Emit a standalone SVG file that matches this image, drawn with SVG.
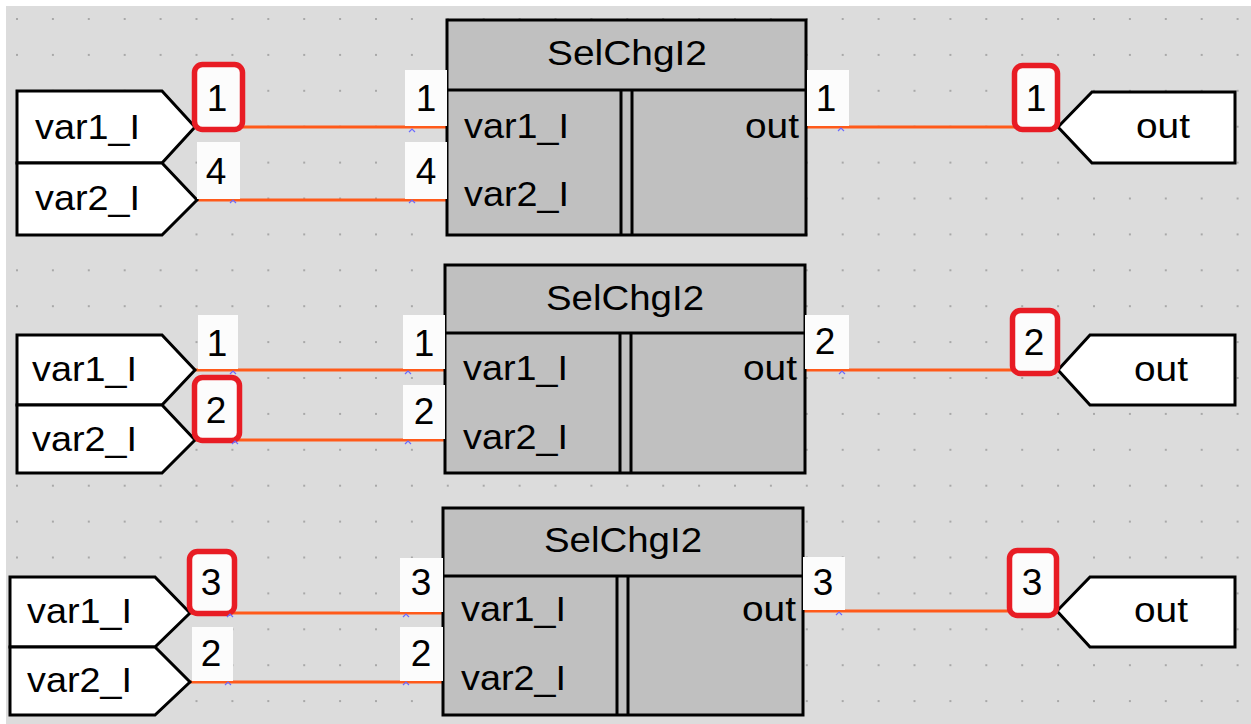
<svg xmlns="http://www.w3.org/2000/svg" width="1251" height="724" viewBox="0 0 1251 724">
<style>
.io{fill:#fff;stroke:#000;stroke-width:3;stroke-linejoin:miter}
.blk{fill:#c0c0c0;stroke:#000;stroke-width:3}
.ln{stroke:#000;stroke-width:3}
.wire{stroke:#ff5a1a;stroke-width:3;fill:none}
.lbl{fill:#fcfcfc}
.red{fill:#fcfcfc;stroke:#e81c24;stroke-width:5.5}
.mk{fill:none;stroke:#6b6bff;stroke-width:1.2}
text{font-family:"Liberation Sans",Arial,sans-serif;fill:#000}
.t{font-size:35px}
.n{font-size:37px;text-anchor:middle}
.ttl{font-size:35px;text-anchor:middle}
.o{font-size:35px;text-anchor:end}
.oc{font-size:35px;text-anchor:middle}
</style>
<defs>
<pattern id="grid" x="17" y="19" width="35.9" height="35.9" patternUnits="userSpaceOnUse">
<rect x="-1" y="-1" width="2" height="2" fill="#a8a8a8"/>
<rect x="34.9" y="-1" width="2" height="2" fill="#a8a8a8"/>
<rect x="-1" y="34.9" width="2" height="2" fill="#a8a8a8"/>
<rect x="34.9" y="34.9" width="2" height="2" fill="#a8a8a8"/>
</pattern>
</defs>
<rect width="1251" height="724" fill="#fff"/>
<rect x="6" y="6" width="1245" height="718" fill="#dcdcdc"/>
<rect x="6" y="6" width="1245" height="718" fill="url(#grid)"/>

<g id="connectors">
<line class="wire" x1="195" y1="127" x2="447" y2="127"/>
<line class="wire" x1="197" y1="200" x2="447" y2="200"/>
<line class="wire" x1="807" y1="127" x2="1058" y2="127"/>
<line class="wire" x1="195" y1="370" x2="445" y2="370"/>
<line class="wire" x1="195" y1="440" x2="445" y2="440"/>
<line class="wire" x1="805" y1="370" x2="1058" y2="370"/>
<line class="wire" x1="190" y1="613" x2="443" y2="613"/>
<line class="wire" x1="190" y1="682" x2="443" y2="682"/>
<line class="wire" x1="803" y1="611" x2="1057" y2="611"/>
</g>

<!-- Row 1 -->
<g id="in1a"><polygon class="io" points="17,91 162,91 195,127 162,163 17,163"/><text class="t" x="35" y="139" textLength="105" lengthAdjust="spacingAndGlyphs">var1_I</text></g>
<g id="in1b"><polygon class="io" points="17,163 162,163 197,200 162,235 17,235"/><text class="t" x="35" y="210" textLength="105" lengthAdjust="spacingAndGlyphs">var2_I</text></g>
<g id="block1">
<rect class="blk" x="447" y="20" width="359" height="215"/>
<line class="ln" x1="447" y1="90" x2="806" y2="90"/>
<line class="ln" x1="621" y1="90" x2="621" y2="235"/>
<line class="ln" x1="632" y1="90" x2="632" y2="235"/>
<text class="ttl" x="627" y="65" textLength="160" lengthAdjust="spacingAndGlyphs">SelChgI2</text>
<text class="t" x="464" y="138" textLength="105" lengthAdjust="spacingAndGlyphs">var1_I</text>
<text class="t" x="464" y="206" textLength="105" lengthAdjust="spacingAndGlyphs">var2_I</text>
<text class="o" x="799" y="138" textLength="54" lengthAdjust="spacingAndGlyphs">out</text>
</g>
<g id="out1"><polygon class="io" points="1058,127 1092,92 1235,92 1235,163 1092,163"/><text class="oc" x="1163" y="138" textLength="54" lengthAdjust="spacingAndGlyphs">out</text></g>
<g id="labels1">
<rect class="red" x="194.5" y="64.5" width="48" height="65" rx="8"/><text class="n" x="217" y="111">1</text>
<rect class="lbl" x="197" y="142" width="43" height="57"/><text class="n" x="216" y="184">4</text>
<rect class="lbl" x="405" y="70" width="42" height="56"/><text class="n" x="426" y="111">1</text>
<rect class="lbl" x="405" y="142" width="42" height="57"/><text class="n" x="426" y="184">4</text>
<rect class="lbl" x="807" y="70" width="42" height="56"/><text class="n" x="826" y="111">1</text>
<rect class="red" x="1014.5" y="65.5" width="43" height="64" rx="8"/><text class="n" x="1036" y="111">1</text>
</g>

<!-- Row 2 -->
<g id="in2a"><polygon class="io" points="17,335 162,335 195,370 162,405 17,405"/><text class="t" x="32" y="381" textLength="105" lengthAdjust="spacingAndGlyphs">var1_I</text></g>
<g id="in2b"><polygon class="io" points="17,405 162,405 195,440 162,473 17,473"/><text class="t" x="32" y="451" textLength="105" lengthAdjust="spacingAndGlyphs">var2_I</text></g>
<g id="block2">
<rect class="blk" x="445" y="265" width="360" height="208"/>
<line class="ln" x1="445" y1="333" x2="805" y2="333"/>
<line class="ln" x1="620" y1="333" x2="620" y2="473"/>
<line class="ln" x1="631" y1="333" x2="631" y2="473"/>
<text class="ttl" x="625" y="310" textLength="158" lengthAdjust="spacingAndGlyphs">SelChgI2</text>
<text class="t" x="463" y="380" textLength="105" lengthAdjust="spacingAndGlyphs">var1_I</text>
<text class="t" x="463" y="449" textLength="105" lengthAdjust="spacingAndGlyphs">var2_I</text>
<text class="o" x="797" y="380" textLength="54" lengthAdjust="spacingAndGlyphs">out</text>
</g>
<g id="out2"><polygon class="io" points="1058,370 1090,335 1235,335 1235,405 1090,405"/><text class="oc" x="1161" y="381" textLength="54" lengthAdjust="spacingAndGlyphs">out</text></g>
<g id="labels2">
<rect class="lbl" x="198" y="315" width="40" height="54"/><text class="n" x="217" y="356">1</text>
<rect class="red" x="194.5" y="377.5" width="45" height="63" rx="8"/><text class="n" x="216" y="423">2</text>
<rect class="lbl" x="403" y="315" width="42" height="54"/><text class="n" x="424" y="356">1</text>
<rect class="lbl" x="403" y="385" width="42" height="54"/><text class="n" x="424" y="424">2</text>
<rect class="lbl" x="805" y="315" width="44" height="54"/><text class="n" x="825" y="354">2</text>
<rect class="red" x="1012.5" y="310.5" width="45" height="63" rx="8"/><text class="n" x="1034" y="355">2</text>
</g>

<!-- Row 3 -->
<g id="in3a"><polygon class="io" points="10,577 155,577 190,613 155,647 10,647"/><text class="t" x="27" y="623" textLength="105" lengthAdjust="spacingAndGlyphs">var1_I</text></g>
<g id="in3b"><polygon class="io" points="10,647 155,647 190,682 155,715 10,715"/><text class="t" x="27" y="692" textLength="105" lengthAdjust="spacingAndGlyphs">var2_I</text></g>
<g id="block3">
<rect class="blk" x="443" y="508" width="360" height="207"/>
<line class="ln" x1="443" y1="576" x2="803" y2="576"/>
<line class="ln" x1="617" y1="576" x2="617" y2="715"/>
<line class="ln" x1="628" y1="576" x2="628" y2="715"/>
<text class="ttl" x="623" y="552" textLength="158" lengthAdjust="spacingAndGlyphs">SelChgI2</text>
<text class="t" x="461" y="621" textLength="105" lengthAdjust="spacingAndGlyphs">var1_I</text>
<text class="t" x="461" y="690" textLength="105" lengthAdjust="spacingAndGlyphs">var2_I</text>
<text class="o" x="796" y="621" textLength="54" lengthAdjust="spacingAndGlyphs">out</text>
</g>
<g id="out3"><polygon class="io" points="1057,611 1090,577 1235,577 1235,647 1090,647"/><text class="oc" x="1161" y="622" textLength="54" lengthAdjust="spacingAndGlyphs">out</text></g>
<g id="labels3">
<rect class="red" x="189.5" y="551.5" width="45" height="62" rx="8"/><text class="n" x="211" y="595">3</text>
<rect class="lbl" x="192" y="627" width="41" height="54"/><text class="n" x="211" y="666">2</text>
<rect class="lbl" x="400" y="558" width="43" height="54"/><text class="n" x="421" y="595">3</text>
<rect class="lbl" x="400" y="627" width="43" height="54"/><text class="n" x="421" y="666">2</text>
<rect class="lbl" x="803" y="557" width="42" height="53"/><text class="n" x="823" y="595">3</text>
<rect class="red" x="1009.5" y="550.5" width="47" height="65" rx="8"/><text class="n" x="1032" y="595">3</text>
</g>

<g id="markers">
<polyline class="mk" points="409,132 412,129 415,132"/>
<polyline class="mk" points="230,203 233,200 236,203"/>
<polyline class="mk" points="409,203 412,200 415,203"/>
<polyline class="mk" points="838,131 841,128 844,131"/>
<polyline class="mk" points="230,374 233,371 236,374"/>
<polyline class="mk" points="405,374 408,371 411,374"/>
<polyline class="mk" points="232,444 235,441 238,444"/>
<polyline class="mk" points="405,444 408,441 411,444"/>
<polyline class="mk" points="839,374 842,371 845,374"/>
<polyline class="mk" points="227,617 230,614 233,617"/>
<polyline class="mk" points="403,617 406,614 409,617"/>
<polyline class="mk" points="225,685 228,682 231,685"/>
<polyline class="mk" points="403,685 406,682 409,685"/>
<polyline class="mk" points="836,615 839,612 842,615"/>
</g>
</svg>
